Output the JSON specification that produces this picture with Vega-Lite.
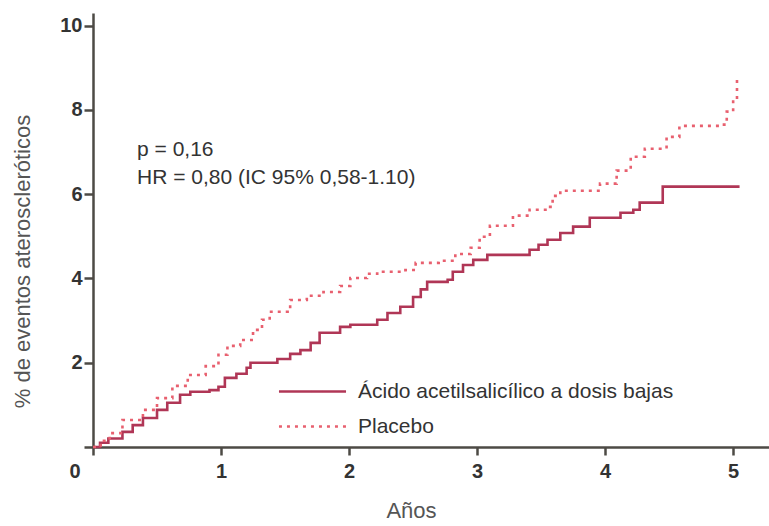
{
  "$schema": "https://vega.github.io/schema/vega-lite/v6.json",
  "width": 676,
  "height": 434,
  "autosize": {"type": "none"},
  "padding": {"left": 93, "top": 13, "right": 0, "bottom": 79},
  "background": "white",
  "config": {
    "font": "Liberation Sans, Arial, sans-serif",
    "view": {"stroke": null}
  },
  "datasets": {
    "curvas": [
      {"grupo": "Ácido acetilsalicílico a dosis bajas", "t": 0.0, "pct": 0.0},
      {"grupo": "Ácido acetilsalicílico a dosis bajas", "t": 0.055, "pct": 0.1},
      {"grupo": "Ácido acetilsalicílico a dosis bajas", "t": 0.12, "pct": 0.2},
      {"grupo": "Ácido acetilsalicílico a dosis bajas", "t": 0.23, "pct": 0.36},
      {"grupo": "Ácido acetilsalicílico a dosis bajas", "t": 0.31, "pct": 0.52},
      {"grupo": "Ácido acetilsalicílico a dosis bajas", "t": 0.39, "pct": 0.69},
      {"grupo": "Ácido acetilsalicílico a dosis bajas", "t": 0.5, "pct": 0.88},
      {"grupo": "Ácido acetilsalicílico a dosis bajas", "t": 0.58, "pct": 1.05},
      {"grupo": "Ácido acetilsalicílico a dosis bajas", "t": 0.68, "pct": 1.24},
      {"grupo": "Ácido acetilsalicílico a dosis bajas", "t": 0.76, "pct": 1.31},
      {"grupo": "Ácido acetilsalicílico a dosis bajas", "t": 0.91, "pct": 1.35},
      {"grupo": "Ácido acetilsalicílico a dosis bajas", "t": 0.98, "pct": 1.43},
      {"grupo": "Ácido acetilsalicílico a dosis bajas", "t": 1.03, "pct": 1.64},
      {"grupo": "Ácido acetilsalicílico a dosis bajas", "t": 1.12, "pct": 1.74},
      {"grupo": "Ácido acetilsalicílico a dosis bajas", "t": 1.2, "pct": 1.88},
      {"grupo": "Ácido acetilsalicílico a dosis bajas", "t": 1.23, "pct": 2.0},
      {"grupo": "Ácido acetilsalicílico a dosis bajas", "t": 1.44, "pct": 2.09},
      {"grupo": "Ácido acetilsalicílico a dosis bajas", "t": 1.54, "pct": 2.21},
      {"grupo": "Ácido acetilsalicílico a dosis bajas", "t": 1.62, "pct": 2.3},
      {"grupo": "Ácido acetilsalicílico a dosis bajas", "t": 1.7, "pct": 2.47},
      {"grupo": "Ácido acetilsalicílico a dosis bajas", "t": 1.77, "pct": 2.71},
      {"grupo": "Ácido acetilsalicílico a dosis bajas", "t": 1.93, "pct": 2.85},
      {"grupo": "Ácido acetilsalicílico a dosis bajas", "t": 2.01, "pct": 2.9},
      {"grupo": "Ácido acetilsalicílico a dosis bajas", "t": 2.22, "pct": 3.02},
      {"grupo": "Ácido acetilsalicílico a dosis bajas", "t": 2.3, "pct": 3.18},
      {"grupo": "Ácido acetilsalicílico a dosis bajas", "t": 2.4, "pct": 3.33},
      {"grupo": "Ácido acetilsalicílico a dosis bajas", "t": 2.5, "pct": 3.56},
      {"grupo": "Ácido acetilsalicílico a dosis bajas", "t": 2.56, "pct": 3.74},
      {"grupo": "Ácido acetilsalicílico a dosis bajas", "t": 2.61, "pct": 3.92},
      {"grupo": "Ácido acetilsalicílico a dosis bajas", "t": 2.77, "pct": 3.97},
      {"grupo": "Ácido acetilsalicílico a dosis bajas", "t": 2.81, "pct": 4.16},
      {"grupo": "Ácido acetilsalicílico a dosis bajas", "t": 2.89, "pct": 4.32},
      {"grupo": "Ácido acetilsalicílico a dosis bajas", "t": 2.97, "pct": 4.44},
      {"grupo": "Ácido acetilsalicílico a dosis bajas", "t": 3.08, "pct": 4.56},
      {"grupo": "Ácido acetilsalicílico a dosis bajas", "t": 3.31, "pct": 4.56},
      {"grupo": "Ácido acetilsalicílico a dosis bajas", "t": 3.41, "pct": 4.68},
      {"grupo": "Ácido acetilsalicílico a dosis bajas", "t": 3.48, "pct": 4.8},
      {"grupo": "Ácido acetilsalicílico a dosis bajas", "t": 3.55, "pct": 4.92},
      {"grupo": "Ácido acetilsalicílico a dosis bajas", "t": 3.65, "pct": 5.08},
      {"grupo": "Ácido acetilsalicílico a dosis bajas", "t": 3.75, "pct": 5.23},
      {"grupo": "Ácido acetilsalicílico a dosis bajas", "t": 3.88, "pct": 5.44},
      {"grupo": "Ácido acetilsalicílico a dosis bajas", "t": 4.09, "pct": 5.44},
      {"grupo": "Ácido acetilsalicílico a dosis bajas", "t": 4.12, "pct": 5.56},
      {"grupo": "Ácido acetilsalicílico a dosis bajas", "t": 4.22, "pct": 5.63},
      {"grupo": "Ácido acetilsalicílico a dosis bajas", "t": 4.27, "pct": 5.8},
      {"grupo": "Ácido acetilsalicílico a dosis bajas", "t": 4.45, "pct": 6.18},
      {"grupo": "Ácido acetilsalicílico a dosis bajas", "t": 5.05, "pct": 6.18},
      {"grupo": "Placebo", "t": 0.0, "pct": 0.0},
      {"grupo": "Placebo", "t": 0.06, "pct": 0.15},
      {"grupo": "Placebo", "t": 0.13, "pct": 0.33},
      {"grupo": "Placebo", "t": 0.23, "pct": 0.64},
      {"grupo": "Placebo", "t": 0.39, "pct": 0.88},
      {"grupo": "Placebo", "t": 0.5, "pct": 1.16},
      {"grupo": "Placebo", "t": 0.62, "pct": 1.45},
      {"grupo": "Placebo", "t": 0.74, "pct": 1.71},
      {"grupo": "Placebo", "t": 0.88, "pct": 1.92},
      {"grupo": "Placebo", "t": 0.98, "pct": 2.19},
      {"grupo": "Placebo", "t": 1.05, "pct": 2.4},
      {"grupo": "Placebo", "t": 1.15, "pct": 2.54},
      {"grupo": "Placebo", "t": 1.25, "pct": 2.78},
      {"grupo": "Placebo", "t": 1.32, "pct": 3.02},
      {"grupo": "Placebo", "t": 1.38, "pct": 3.21},
      {"grupo": "Placebo", "t": 1.52, "pct": 3.25},
      {"grupo": "Placebo", "t": 1.54, "pct": 3.49},
      {"grupo": "Placebo", "t": 1.67, "pct": 3.59},
      {"grupo": "Placebo", "t": 1.8, "pct": 3.68},
      {"grupo": "Placebo", "t": 1.93, "pct": 3.82},
      {"grupo": "Placebo", "t": 2.01, "pct": 4.01},
      {"grupo": "Placebo", "t": 2.14, "pct": 4.11},
      {"grupo": "Placebo", "t": 2.22, "pct": 4.16},
      {"grupo": "Placebo", "t": 2.44, "pct": 4.2},
      {"grupo": "Placebo", "t": 2.52, "pct": 4.37},
      {"grupo": "Placebo", "t": 2.7, "pct": 4.42},
      {"grupo": "Placebo", "t": 2.83, "pct": 4.58},
      {"grupo": "Placebo", "t": 2.95, "pct": 4.73},
      {"grupo": "Placebo", "t": 3.02, "pct": 4.99},
      {"grupo": "Placebo", "t": 3.1, "pct": 5.25},
      {"grupo": "Placebo", "t": 3.28, "pct": 5.49},
      {"grupo": "Placebo", "t": 3.41, "pct": 5.63},
      {"grupo": "Placebo", "t": 3.55, "pct": 5.7},
      {"grupo": "Placebo", "t": 3.59, "pct": 5.96},
      {"grupo": "Placebo", "t": 3.65, "pct": 6.08},
      {"grupo": "Placebo", "t": 3.84, "pct": 6.08},
      {"grupo": "Placebo", "t": 3.96, "pct": 6.25},
      {"grupo": "Placebo", "t": 4.09, "pct": 6.56},
      {"grupo": "Placebo", "t": 4.2, "pct": 6.89},
      {"grupo": "Placebo", "t": 4.31, "pct": 7.08},
      {"grupo": "Placebo", "t": 4.45, "pct": 7.08},
      {"grupo": "Placebo", "t": 4.48, "pct": 7.36},
      {"grupo": "Placebo", "t": 4.58, "pct": 7.62},
      {"grupo": "Placebo", "t": 4.9, "pct": 7.65},
      {"grupo": "Placebo", "t": 4.95, "pct": 7.96},
      {"grupo": "Placebo", "t": 5.0, "pct": 8.29},
      {"grupo": "Placebo", "t": 5.03, "pct": 8.76}
    ],
    "notas": [
      {"t": 0.344, "pct": 7.05, "texto": "p = 0,16"},
      {"t": 0.344, "pct": 6.39, "texto": "HR = 0,80 (IC 95% 0,58-1.10)"}
    ]
  },
  "layer": [
    {
      "data": {"name": "curvas"},
      "mark": {"type": "line", "interpolate": "step-after", "strokeCap": "butt"},
      "encoding": {
        "x": {
          "field": "t", "type": "quantitative",
          "scale": {"domain": [0, 5.28], "nice": false, "zero": false},
          "axis": {
            "title": "Años", "values": [0, 1, 2, 3, 4, 5], "format": "d", "grid": false,
            "domainColor": "#4d4a45", "domainWidth": 2.5, "tickColor": "#4d4a45", "tickWidth": 2.5, "tickSize": 8,
            "labelFontSize": 20, "labelColor": "#333333", "labelPadding": 6, "labelFontWeight": "bold",
            "labelOffset": {"condition": {"test": "datum.value == 0", "value": -24}, "value": 0},
            "titleFontSize": 22, "titleFontWeight": "normal", "titleColor": "#555555",
            "titleX": 318, "titleY": 63, "titleBaseline": "middle"
          }
        },
        "y": {
          "field": "pct", "type": "quantitative",
          "scale": {"domain": [0, 10.3], "nice": false},
          "axis": {
            "title": "% de eventos ateroscleróticos", "values": [0, 2, 4, 6, 8, 10], "grid": false,
            "labelExpr": "datum.value == 0 ? '' : datum.label",
            "domainColor": "#4d4a45", "domainWidth": 2.5, "tickColor": "#4d4a45", "tickWidth": 2.5, "tickSize": 9,
            "labelFontSize": 20, "labelColor": "#333333", "labelPadding": 2, "labelFontWeight": "bold",
            "titleFontSize": 22, "titleFontWeight": "normal", "titleColor": "#555555",
            "titleX": -71, "titleY": 248, "titleAngle": -90, "titleAlign": "center", "titleBaseline": "middle"
          }
        },
        "color": {
          "field": "grupo", "type": "nominal",
          "scale": {"domain": ["Ácido acetilsalicílico a dosis bajas", "Placebo"], "range": ["#b03656", "#e8606f"]},
          "legend": {
            "title": null, "orient": "none", "legendX": 207, "legendY": 366,
            "symbolType": "M-3,0H3", "symbolSize": 500, "symbolStrokeWidth": 2.5,
            "labelFontSize": 21, "labelColor": "#333333", "labelOffset": 33, "labelLimit": 0,
            "rowPadding": 12
          }
        },
        "strokeDash": {
          "field": "grupo", "type": "nominal",
          "scale": {"domain": ["Ácido acetilsalicílico a dosis bajas", "Placebo"], "range": [[1, 0], [3, 5]]},
          "legend": {
            "title": null, "orient": "none", "legendX": 207, "legendY": 366,
            "symbolType": "M-3,0H3", "symbolSize": 500, "symbolStrokeWidth": 2.5,
            "labelFontSize": 21, "labelColor": "#333333", "labelOffset": 33, "labelLimit": 0,
            "rowPadding": 12
          }
        },
        "strokeWidth": {"value": 2.6}
      }
    },
    {
      "data": {"name": "notas"},
      "mark": {"type": "text", "align": "left", "baseline": "middle", "fontSize": 21, "color": "#333333"},
      "encoding": {
        "x": {"field": "t", "type": "quantitative"},
        "y": {"field": "pct", "type": "quantitative"},
        "text": {"field": "texto"}
      }
    }
  ]
}
